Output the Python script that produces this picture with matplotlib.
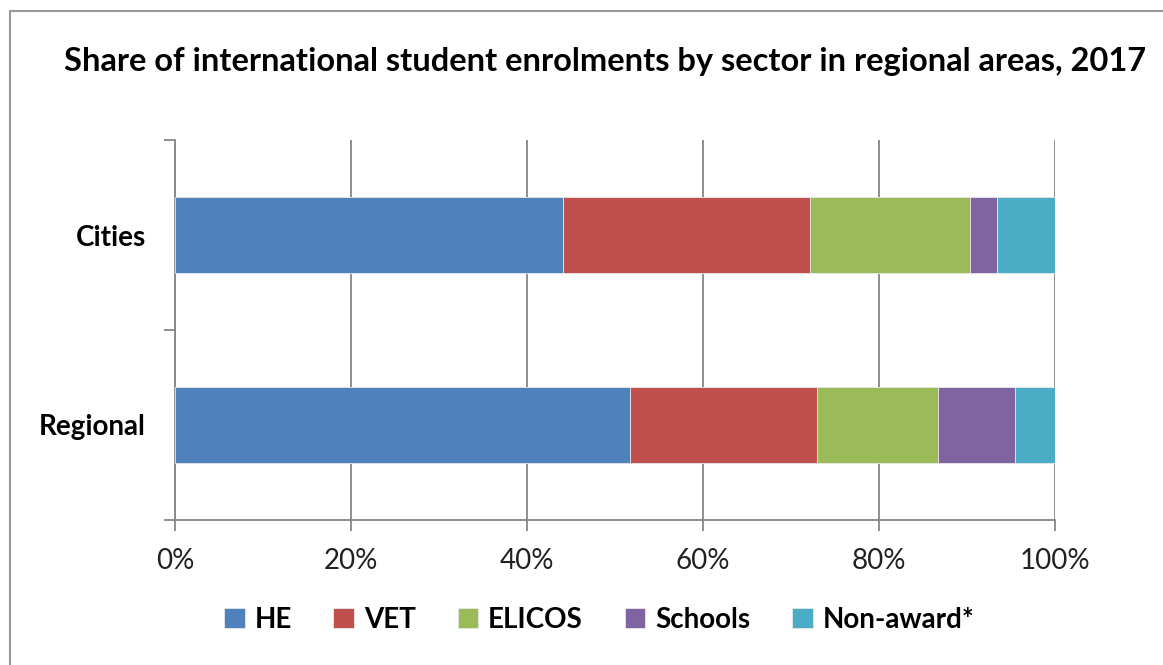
import matplotlib

matplotlib.use("Agg")
import matplotlib.pyplot as plt
import numpy as np
from matplotlib.patches import Rectangle
from matplotlib.ticker import PercentFormatter

plt.rcParams["font.family"] = ["Lato", "DejaVu Sans"]

categories = ["Regional", "Cities"]
sectors = ["HE", "VET", "ELICOS", "Schools", "Non-award*"]
colors = ["#4F81BD", "#C0504D", "#9BBB59", "#8064A2", "#4BACC6"]
# shares (%) per sector, ordered as categories
he = [51.7, 44.1]
vet = [21.3, 28.1]
elicos = [13.7, 18.1]
schools = [8.8, 3.1]
non_award = [4.5, 6.6]
series = [he, vet, elicos, schools, non_award]

fig = plt.figure(figsize=(11.63, 6.65), dpi=100)
ax = fig.add_axes([175 / 1163, 1 - 520 / 665, 880 / 1163, 380 / 665])

y = np.arange(len(categories))
left = np.zeros(len(categories))
for name, vals, c in zip(sectors, series, colors):
    ax.barh(y, vals, left=left, height=0.4, color=c, label=name,
            edgecolor="#e8e8e8", linewidth=0.6, zorder=3)
    left += np.array(vals)

ax.set_xlim(0, 100)
ax.set_ylim(-0.5, 1.5)
ax.set_xticks(np.arange(0, 101, 20))
ax.xaxis.set_major_formatter(PercentFormatter(decimals=0))
ax.set_yticks(y)
ax.set_yticklabels(categories, fontsize=20, fontweight="bold")
ax.set_yticks([-0.5, 0.5, 1.5], minor=True)
ax.tick_params(axis="y", which="major", length=0, pad=21)
ax.tick_params(axis="y", which="minor", length=8, color="#868686", width=1.3)
ax.tick_params(axis="x", length=8, color="#868686", width=1.3, labelsize=20,
               pad=12, labelcolor="#222222")
ax.grid(True, axis="x", color="#868686", linewidth=1.3, zorder=0)
for s in ["top", "right"]:
    ax.spines[s].set_visible(False)
for s in ["left", "bottom"]:
    ax.spines[s].set_color("#868686")
    ax.spines[s].set_linewidth(1.3)

fig.text(605 / 1163, 1 - 62 / 665,
         "Share of international student enrolments by sector in regional areas, 2017",
         ha="center", va="center", fontsize=23.5, fontweight="bold")

fig.legend(loc="center", bbox_to_anchor=(599 / 1163, 1 - 620 / 665), ncol=5,
           frameon=False, prop={"size": 20, "weight": "bold"},
           handlelength=0.75, handleheight=0.75, handletextpad=0.35,
           columnspacing=1.5)

fig.patches.append(Rectangle((10 / 1163, -0.1), 1.2, 1 - 11 / 665 + 0.1,
                             transform=fig.transFigure, fill=False,
                             edgecolor="#999999", linewidth=1.5))

fig.savefig("out.png", dpi=100)
plt.close(fig)
